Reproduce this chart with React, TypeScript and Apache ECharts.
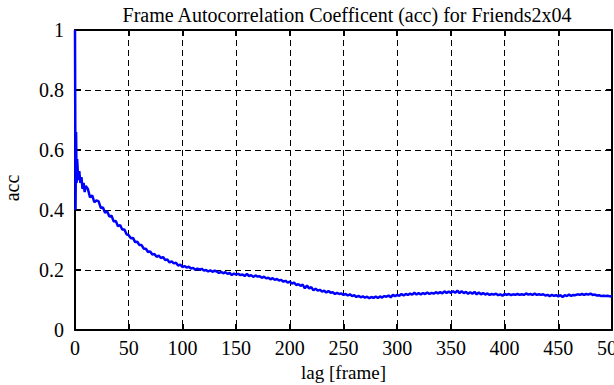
import React, { useEffect, useRef } from "react";
import * as echarts from "echarts";

const TITLE = "Frame Autocorrelation Coefficent (acc) for Friends2x04";
const X_NAME = "lag [frame]";
const Y_NAME = "acc";

// first lags (fine resolution, the initial drop)
const HEAD_LAGS = [0, 0.5, 1, 1.5, 2, 3, 4, 5, 6, 7, 8, 9, 10];
const HEAD_ACC = [1.0, 0.4, 0.66, 0.49, 0.57, 0.5, 0.53, 0.49, 0.51, 0.47, 0.49, 0.46, 0.48];

// lags 12, 14, ..., 500
const BODY_START = 12;
const BODY_STEP = 2;
const BODY_ACC = [
  0.470, 0.442, 0.449, 0.426, 0.432, 0.429, 0.407, 0.408, 0.391, 0.395,
  0.378, 0.381, 0.362, 0.363, 0.346, 0.350, 0.335, 0.335, 0.319, 0.316,
  0.306, 0.307, 0.293, 0.294, 0.283, 0.283, 0.271, 0.271, 0.260, 0.262,
  0.252, 0.253, 0.244, 0.248, 0.240, 0.243, 0.233, 0.235, 0.225, 0.229,
  0.222, 0.224, 0.215, 0.218, 0.210, 0.213, 0.208, 0.211, 0.205, 0.207,
  0.201, 0.205, 0.201, 0.204, 0.198, 0.200, 0.195, 0.199, 0.194, 0.198,
  0.195, 0.190, 0.194, 0.189, 0.193, 0.187, 0.190, 0.183, 0.188, 0.185,
  0.187, 0.183, 0.185, 0.180, 0.187, 0.180, 0.183, 0.177, 0.182, 0.178,
  0.179, 0.174, 0.178, 0.172, 0.174, 0.169, 0.173, 0.167, 0.170, 0.165,
  0.167, 0.161, 0.164, 0.158, 0.161, 0.155, 0.158, 0.150, 0.153, 0.147,
  0.151, 0.139, 0.148, 0.138, 0.143, 0.132, 0.138, 0.131, 0.134, 0.128,
  0.131, 0.125, 0.130, 0.124, 0.126, 0.120, 0.124, 0.120, 0.122, 0.117,
  0.120, 0.115, 0.119, 0.113, 0.116, 0.110, 0.114, 0.109, 0.112, 0.108,
  0.111, 0.106, 0.110, 0.107, 0.112, 0.107, 0.112, 0.108, 0.113, 0.111,
  0.115, 0.109, 0.117, 0.113, 0.117, 0.114, 0.120, 0.115, 0.120, 0.117,
  0.121, 0.118, 0.124, 0.118, 0.123, 0.118, 0.123, 0.120, 0.125, 0.120,
  0.124, 0.121, 0.126, 0.122, 0.126, 0.122, 0.129, 0.123, 0.128, 0.124,
  0.129, 0.124, 0.131, 0.123, 0.129, 0.123, 0.127, 0.121, 0.126, 0.121,
  0.127, 0.119, 0.125, 0.119, 0.123, 0.118, 0.122, 0.117, 0.120, 0.118,
  0.121, 0.116, 0.119, 0.114, 0.120, 0.117, 0.120, 0.116, 0.119, 0.117,
  0.120, 0.117, 0.119, 0.117, 0.122, 0.118, 0.120, 0.117, 0.121, 0.117,
  0.119, 0.117, 0.119, 0.115, 0.117, 0.113, 0.117, 0.114, 0.116, 0.112,
  0.116, 0.110, 0.116, 0.113, 0.118, 0.114, 0.117, 0.116, 0.119, 0.117,
  0.120, 0.117, 0.120, 0.118, 0.121, 0.117, 0.118, 0.115, 0.116, 0.113,
  0.114, 0.113, 0.114, 0.112, 0.113,
];

const X_MIN = 0;
const X_MAX = 500;
const X_INTERVAL = 50;
const Y_MIN = 0;
const Y_MAX = 1;
const Y_INTERVAL = 0.2;

const FONT = "'Liberation Serif', 'DejaVu Serif', serif";
const FS = 20;

export default function App() {
  const ref = useRef<HTMLDivElement>(null);
  useEffect(() => {
    if (!ref.current) return;
    const chart = echarts.init(ref.current, null, { renderer: "svg" });
    const data: [number, number][] = [];
    HEAD_LAGS.forEach((l, i) => data.push([l, HEAD_ACC[i]]));
    BODY_ACC.forEach((v, i) => data.push([BODY_START + i * BODY_STEP, v]));

    const axisLine = { show: true, onZero: false, lineStyle: { color: "#000", width: 2 } };
    const axisTick = { show: true, inside: true, length: 6, lineStyle: { color: "#000", width: 2 } };
    const splitLine = { show: true, lineStyle: { color: "#000", width: 1, type: [6, 4] as any } };
    const label = { color: "#000", fontFamily: FONT, fontSize: FS };

    chart.setOption({
      animation: false,
      backgroundColor: "#fff",
      title: {
        text: TITLE,
        left: 342,
        textAlign: "center",
        top: 0,
        textStyle: { color: "#000", fontFamily: FONT, fontSize: FS, fontWeight: "normal" },
      },
      grid: { left: 75, right: 2, top: 30, bottom: 55, containLabel: false, outerBoundsMode: "none" },
      xAxis: [
        {
          type: "value",
          min: X_MIN,
          max: X_MAX,
          interval: X_INTERVAL,
          position: "bottom",
          axisLine,
          axisTick,
          splitLine,
          axisLabel: { ...label, margin: 8 },
          name: X_NAME,
          nameLocation: "middle",
          nameGap: 33,
          nameTextStyle: { ...label, fontSize: 19 },
        },
        {
          type: "value",
          min: X_MIN,
          max: X_MAX,
          interval: X_INTERVAL,
          position: "top",
          axisLine,
          axisTick,
          splitLine: { show: false },
          axisLabel: { show: false },
        },
      ],
      yAxis: [
        {
          type: "value",
          min: Y_MIN,
          max: Y_MAX,
          interval: Y_INTERVAL,
          position: "left",
          axisLine,
          axisTick,
          splitLine,
          axisLabel: { ...label, margin: 11 },
        },
        {
          type: "value",
          min: Y_MIN,
          max: Y_MAX,
          interval: Y_INTERVAL,
          position: "right",
          axisLine,
          axisTick,
          splitLine: { show: false },
          axisLabel: { show: false },
        },
      ],
      graphic: [
        {
          type: "text",
          x: 12,
          y: 188,
          rotation: Math.PI / 2,
          style: {
            text: Y_NAME,
            fill: "#000",
            font: `${FS}px ${FONT}`,
            textAlign: "center",
            textVerticalAlign: "middle",
          },
        },
      ],
      series: [
        {
          type: "line",
          xAxisIndex: 0,
          yAxisIndex: 0,
          data,
          showSymbol: false,
          symbol: "none",
          clip: true,
          lineStyle: { color: "#0000ff", width: 2.5 },
          z: 5,
        },
      ],
    });
    return () => chart.dispose();
  }, []);
  return <div ref={ref} style={{ width: 614, height: 385, position: "absolute", left: 0, top: 0 }} />;
}
